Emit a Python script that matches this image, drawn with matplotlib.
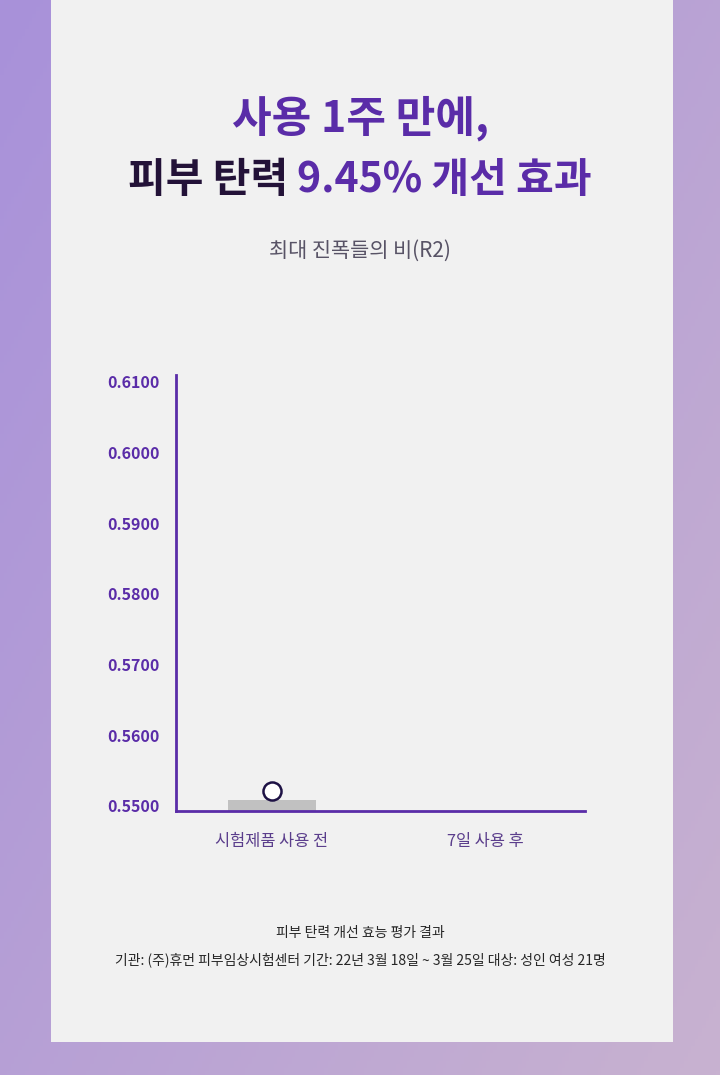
import numpy as np
import matplotlib
matplotlib.use('Agg')
import matplotlib.pyplot as plt
from matplotlib.patches import Rectangle

plt.rcParams['font.family'] = ['Noto Sans CJK KR', 'DejaVu Sans']

# chart data
categories = ['시험제품 사용 전', '7일 사용 후']
bar_values = [0.55085, np.nan]
marker_values = [0.55212, np.nan]
ytick_values = [0.55, 0.56, 0.57, 0.58, 0.59, 0.60, 0.61]
ytick_labels = ['0.5500', '0.5600', '0.5700', '0.5800', '0.5900', '0.6000', '0.6100']

title_line1 = '사용 1주 만에,'
title_line2a = '피부 탄력 '
title_line2b = '9.45% 개선 효과'
subtitle = '최대 진폭들의 비(R2)'
footer1 = '피부 탄력 개선 효능 평가 결과'
footer2 = '기관: (주)휴먼 피부임상시험센터 기간: 22년 3월 18일 ~ 3월 25일 대상: 성인 여성 21명'

W, H = 720, 1075
PURPLE = '#5a2ca8'
DARK = '#231238'

fig = plt.figure(figsize=(W / 100, H / 100), dpi=100)

# purple gradient background
bg = fig.add_axes([0, 0, 1, 1], zorder=-10)
gx, gy = np.meshgrid(np.linspace(0, 1, 200), np.linspace(0, 1, 300))
t = np.clip(0.55 * gx + 0.45 * gy, 0, 1)[..., None]
c0 = np.array([168, 145, 218]) / 255
c1 = np.array([200, 178, 208]) / 255
bg.imshow(c0 + (c1 - c0) * t, aspect='auto', extent=[0, 1, 0, 1], origin='upper')
bg.set_xlim(0, 1)
bg.set_ylim(0, 1)
bg.axis('off')
bg.add_patch(Rectangle((51 / W, 1 - 1042 / H), (673 - 51) / W, 1042 / H,
                       facecolor='#f1f1f1', edgecolor='none'))

# titles
fig.text(0.5, 1 - 118 / H, title_line1, ha='center', va='center',
         fontsize=31, fontweight='bold', color=PURPLE)
y2 = 1 - 180 / H
ta = fig.text(0, y2, title_line2a, ha='left', va='center', fontsize=29.5,
              fontweight='bold', color=DARK)
tb = fig.text(0, y2, title_line2b, ha='left', va='center', fontsize=29.5,
              fontweight='bold', color=PURPLE)
fig.canvas.draw()
r = fig.canvas.get_renderer()
wa = ta.get_window_extent(r).width
wb = tb.get_window_extent(r).width
x0 = (W - wa - wb) / 2
ta.set_x(x0 / W)
tb.set_x((x0 + wa) / W)

fig.text(0.5, 1 - 251 / H, subtitle, ha='center', va='center',
         fontsize=15, color='#585366')

# chart
ax = fig.add_axes([176 / W, 1 - 811 / H, (585 - 176) / W, (811 - 375) / H])
ax.set_facecolor('none')
x = np.arange(len(categories))
ax.bar(x, bar_values, width=0.415, color='#c1c1c1', zorder=2)
ax.plot(x, marker_values, 'o', markersize=13, markerfacecolor='white',
        markeredgecolor='#1e1245', markeredgewidth=1.8, zorder=3)
ax.set_xlim(-0.45, 1.47)
ax.set_ylim(0.54929, 0.61099)
ax.set_yticks(ytick_values)
ax.set_yticklabels(ytick_labels)
ax.set_xticks(x)
ax.set_xticklabels(categories)
for s in ['top', 'right']:
    ax.spines[s].set_visible(False)
for s in ['left', 'bottom']:
    ax.spines[s].set_color(PURPLE)
    ax.spines[s].set_linewidth(2)
ax.tick_params(axis='y', length=0, pad=12, labelsize=11.5, labelcolor=PURPLE)
ax.tick_params(axis='x', length=0, pad=16, labelsize=11.8, labelcolor='#5b3e8c')
for lbl in ax.get_yticklabels():
    lbl.set_fontweight('bold')

# footer
fig.text(0.5, 1 - 933 / H, footer1, ha='center', va='center',
         fontsize=10, color='#262626')
fig.text(0.5, 1 - 960 / H, footer2, ha='center', va='center',
         fontsize=10, color='#262626')

fig.savefig('out.png', dpi=100)
